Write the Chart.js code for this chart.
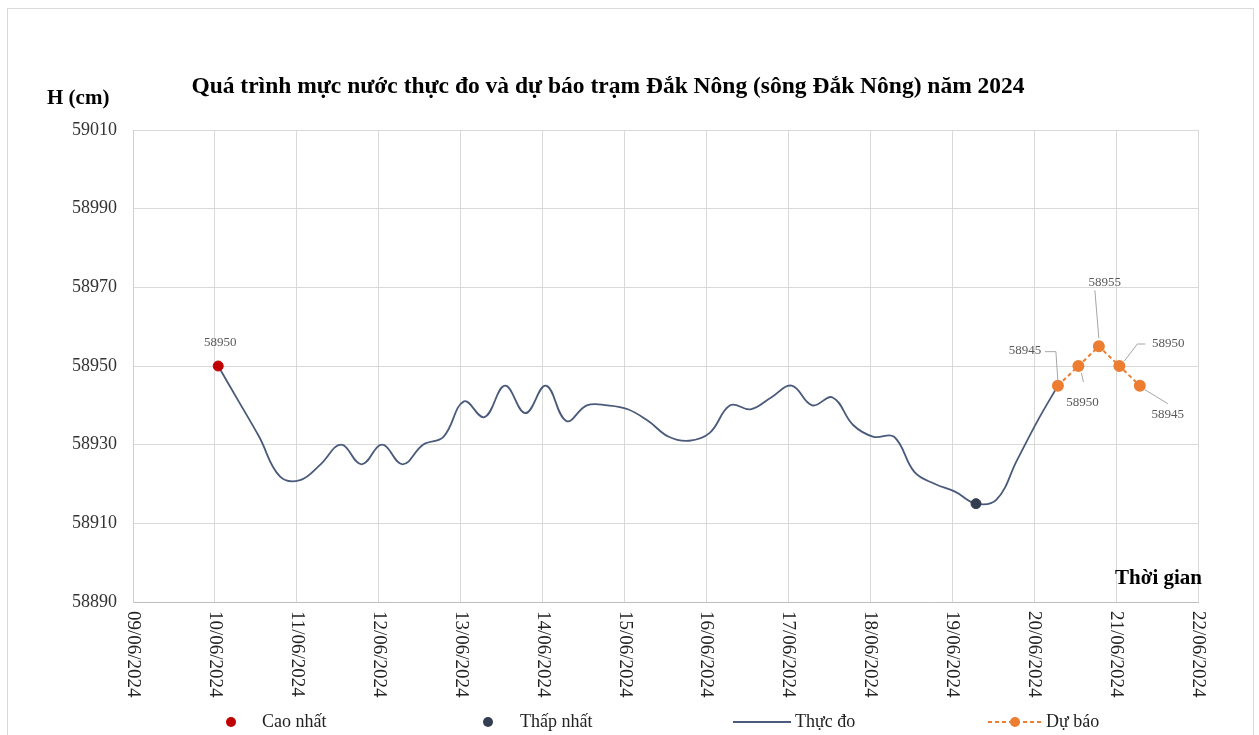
<!DOCTYPE html>
<html>
<head>
<meta charset="utf-8">
<script src="https://cdn.jsdelivr.net/npm/chart.js@4.4.1/dist/chart.umd.min.js"></script>
<style>
html, body { margin: 0; padding: 0; background: #fff; }
#wrap { width: 1259px; height: 735px; }
</style>
</head>
<body>
<div id="wrap"><canvas id="myChart" width="1259" height="735"></canvas></div>
<script>
// tick labels of the time axis (one per day, value = day index)
const tickLabels = ['09/06/2024', '10/06/2024', '11/06/2024', '12/06/2024', '13/06/2024', '14/06/2024', '15/06/2024',
    '16/06/2024', '17/06/2024', '18/06/2024', '19/06/2024', '20/06/2024', '21/06/2024', '22/06/2024'];

// observed water level, 6-hourly (days after 09/06/2024 00h)
const obsDays = [1.04, 1.29, 1.54, 1.79, 2.04, 2.29, 2.54, 2.79, 3.04, 3.29, 3.54, 3.79, 4.04, 4.29, 4.54, 4.79,
    5.04, 5.29, 5.54, 5.79, 6.04, 6.29, 6.54, 6.79, 7.04, 7.29, 7.54, 7.79, 8.04, 8.29, 8.54, 8.79,
    9.04, 9.29, 9.54, 9.79, 10.04, 10.29, 10.54, 10.79, 11.04, 11.29];
const obsLevels = [58950, 58941, 58932, 58922, 58921, 58925, 58930, 58925, 58930, 58925, 58930, 58932, 58941, 58937, 58945, 58938,
    58945, 58936, 58940, 58940, 58939, 58936, 58932, 58931, 58933, 58940, 58939, 58942, 58945, 58940, 58942, 58935,
    58932, 58932, 58923, 58920, 58918, 58915, 58916, 58926, 58936, 58945];

// forecast
const fcDays = [11.29, 11.54, 11.79, 12.04, 12.29];
const fcLevels = [58945, 58950, 58955, 58950, 58945];

// highest / lowest observed
const maxDay = [1.04];
const maxLevel = [58950];
const minDay = [10.29];
const minLevel = [58915];

const serif = '"Liberation Serif", "Times New Roman", serif';

const toXY = (xs, ys) => xs.map((x, i) => ({ x: x, y: ys[i] }));

const decor = {
    id: 'decor',
    afterDraw(chart) {
        const ctx = chart.ctx;
        const xs = chart.scales.x;
        const ys = chart.scales.y;
        ctx.save();

        // outer frame
        ctx.strokeStyle = '#d9d9d9';
        ctx.lineWidth = 1;
        ctx.strokeRect(7.5, 8.5, 1246, 740);

        // title and axis names
        ctx.fillStyle = '#000';
        ctx.textBaseline = 'middle';
        ctx.textAlign = 'center';
        ctx.font = 'bold 23.5px ' + serif;
        ctx.fillText('Quá trình mực nước thực đo và dự báo trạm Đắk Nông (sông Đắk Nông) năm 2024', 608, 87);
        ctx.font = 'bold 21px ' + serif;
        ctx.textAlign = 'left';
        ctx.fillText('H (cm)', 47, 99);
        ctx.textAlign = 'right';
        ctx.fillText('Thời gian', 1202, 579);

        // rotated date labels
        ctx.font = '19px ' + serif;
        ctx.fillStyle = '#222';
        ctx.textAlign = 'left';
        tickLabels.forEach((t, i) => {
            ctx.save();
            ctx.translate(xs.getPixelForValue(i), chart.chartArea.bottom + 9);
            ctx.rotate(Math.PI / 2);
            ctx.fillText(t, 0, 0);
            ctx.restore();
        });

        // data labels
        ctx.font = '13px ' + serif;
        ctx.fillStyle = '#595959';
        ctx.textAlign = 'center';
        ctx.fillText(String(maxLevel[0]), xs.getPixelForValue(maxDay[0]) + 2, ys.getPixelForValue(maxLevel[0]) - 23);

        // forecast labels with leader lines: label offset + leader path, relative to the point
        const lab = [
            { dx: -33, dy: -35, path: [[-13, -34], [-2, -34], [0, -4]] },
            { dx: 4, dy: 37, path: [[3, 7], [5, 16]] },
            { dx: 6, dy: -64, path: [[-4, -56], [0, -8]] },
            { dx: 49, dy: -22, path: [[5, -5], [18, -22], [26, -22]] },
            { dx: 28, dy: 29, path: [[5, 4], [28, 18]] }
        ];
        fcDays.forEach((d, i) => {
            const px = xs.getPixelForValue(d);
            const py = ys.getPixelForValue(fcLevels[i]);
            const l = lab[i];
            ctx.strokeStyle = '#a6a6a6';
            ctx.lineWidth = 1;
            ctx.beginPath();
            l.path.forEach((p, j) => {
                if (j === 0) ctx.moveTo(px + p[0], py + p[1]);
                else ctx.lineTo(px + p[0], py + p[1]);
            });
            ctx.stroke();
            ctx.fillText(String(fcLevels[i]), px + l.dx, py + l.dy);
        });

        // legend
        const ly = 722;
        ctx.font = '18px ' + serif;
        ctx.textAlign = 'left';
        ctx.fillStyle = '#c00000';
        ctx.beginPath(); ctx.arc(231, ly, 5, 0, Math.PI * 2); ctx.fill();
        ctx.fillStyle = '#333f50';
        ctx.beginPath(); ctx.arc(488, ly, 5, 0, Math.PI * 2); ctx.fill();
        ctx.strokeStyle = '#4a5a7a';
        ctx.lineWidth = 2;
        ctx.beginPath(); ctx.moveTo(733, ly); ctx.lineTo(791, ly); ctx.stroke();
        ctx.strokeStyle = '#ed7d31';
        ctx.setLineDash([4, 3]);
        ctx.beginPath(); ctx.moveTo(988, ly); ctx.lineTo(1042, ly); ctx.stroke();
        ctx.setLineDash([]);
        ctx.fillStyle = '#ed7d31';
        ctx.beginPath(); ctx.arc(1015, ly, 5, 0, Math.PI * 2); ctx.fill();
        ctx.fillStyle = '#222';
        ctx.fillText('Cao nhất', 262, ly);
        ctx.fillText('Thấp nhất', 520, ly);
        ctx.fillText('Thực đo', 795, ly);
        ctx.fillText('Dự báo', 1046, ly);

        ctx.restore();
    }
};

const config = {
    type: 'line',
    data: {
        datasets: [{
            label: 'Cao nhất',
            data: toXY(maxDay, maxLevel),
            showLine: false,
            pointRadius: 5,
            pointBackgroundColor: '#c00000',
            pointBorderColor: '#c00000'
        },
        {
            label: 'Thấp nhất',
            data: toXY(minDay, minLevel),
            showLine: false,
            pointRadius: 5,
            pointBackgroundColor: '#333f50',
            pointBorderColor: '#333f50'
        },
        {
            label: 'Dự báo',
            data: toXY(fcDays, fcLevels),
            borderColor: '#ed7d31',
            borderWidth: 2,
            borderDash: [4, 3],
            pointRadius: 5,
            pointBackgroundColor: '#ed7d31',
            pointBorderColor: '#ed7d31',
            tension: 0
        },
        {
            label: 'Thực đo',
            data: toXY(obsDays, obsLevels),
            borderColor: '#4a5a7a',
            borderWidth: 1.8,
            pointRadius: 0,
            tension: 0.4
        }]
    },
    options: {
        responsive: false,
        animation: false,
        devicePixelRatio: 1,
        layout: { padding: { top: 130, right: 61, left: 0, bottom: 0 } },
        plugins: {
            legend: { display: false },
            title: { display: false },
            tooltip: { enabled: false }
        },
        scales: {
            x: {
                type: 'linear',
                min: 0,
                max: 13,
                ticks: { display: false, stepSize: 1 },
                grid: { color: '#d9d9d9', drawTicks: false },
                border: { color: '#bfbfbf' },
                afterFit: (s) => { s.height = 133; }
            },
            y: {
                min: 58890,
                max: 59010,
                ticks: {
                    stepSize: 20,
                    padding: 16,
                    color: '#333',
                    font: { family: serif, size: 18 },
                    callback: (v) => String(v)
                },
                grid: { color: '#d9d9d9', drawTicks: false },
                border: { color: '#d0d0d0' },
                afterFit: (s) => { s.width = 133; }
            }
        }
    },
    plugins: [decor]
};

const myChart = new Chart(document.getElementById('myChart'), config);
</script>
</body>
</html>
